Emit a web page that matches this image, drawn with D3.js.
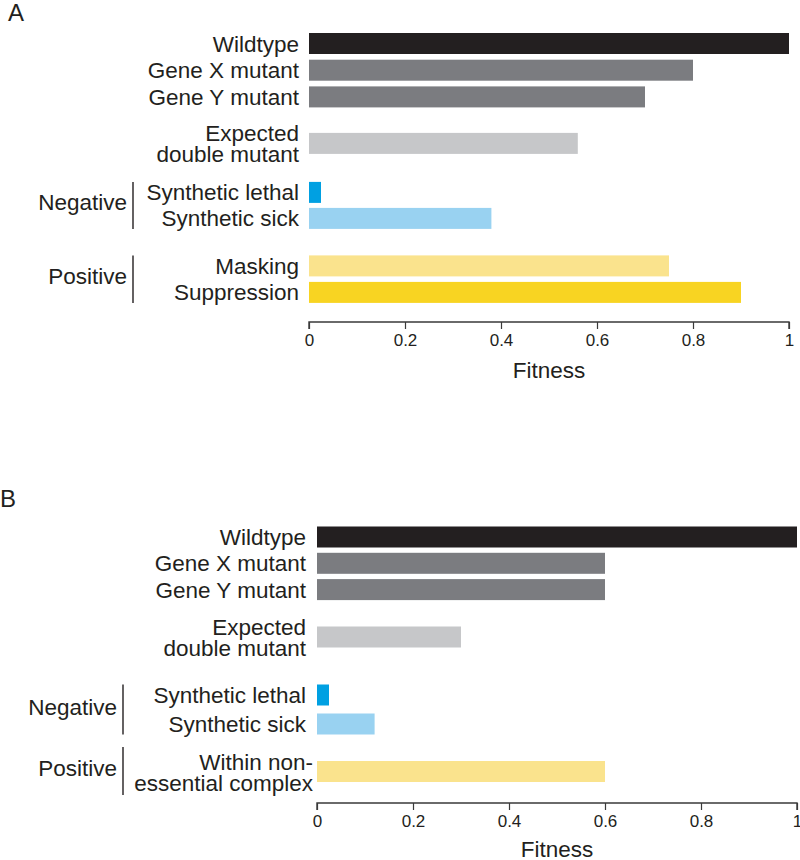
<!DOCTYPE html>
<html>
<head>
<meta charset="utf-8">
<script src="https://cdn.jsdelivr.net/npm/d3@7"></script>
<style>
  html, body { margin: 0; padding: 0; background: #fff; }
  svg { display: block; font-family: "Liberation Sans", Arial, Helvetica, sans-serif; }
</style>
</head>
<body>
<div id="chart"></div>
<script>
/// DATA

// panel A
const categoriesA = ["Wildtype", "Gene X mutant", "Gene Y mutant", "Expected double mutant",
  "Synthetic lethal", "Synthetic sick", "Masking", "Suppression"]
const labelsA = ["Wildtype", "Gene X mutant", "Gene Y mutant", "Expected\ndouble mutant",
  "Synthetic lethal", "Synthetic sick", "Masking", "Suppression"]
const fitnessA = [1, 0.8, 0.7, 0.56, 0.025, 0.38, 0.75, 0.9]
const groupA = [0, 0, 0, 1, 2, 2, 3, 3]
const groupNamesA = ["", "", "Negative", "Positive"]

// panel B
const categoriesB = ["Wildtype", "Gene X mutant", "Gene Y mutant", "Expected double mutant",
  "Synthetic lethal", "Synthetic sick", "Within non-essential complex"]
const labelsB = ["Wildtype", "Gene X mutant", "Gene Y mutant", "Expected\ndouble mutant",
  "Synthetic lethal", "Synthetic sick", "Within non-\nessential complex"]
const fitnessB = [1, 0.6, 0.6, 0.3, 0.025, 0.12, 0.6]
const groupB = [0, 0, 0, 1, 2, 2, 3]
const groupNamesB = ["", "", "Negative", "Positive"]

const tickValues = [0, 0.2, 0.4, 0.6, 0.8, 1]
const axisTitle = "Fitness"

const colorScale = d3
  .scaleOrdinal()
  .domain([
    "Wildtype",
    "Gene X mutant",
    "Gene Y mutant",
    "Expected double mutant",
    "Synthetic lethal",
    "Synthetic sick",
    "Masking",
    "Suppression",
    "Within non-essential complex",
  ])
  .range([
    "#231f20",
    "#7b7c80",
    "#7b7c80",
    "#c6c7c9",
    "#00a0e2",
    "#99d2f1",
    "#fae38d",
    "#f8d422",
    "#fae38d",
  ])

const width = 800
const height = 860
const textColor = "#231f20"

const svg = d3
  .select("#chart")
  .append("svg")
  .attr("width", width)
  .attr("height", height)
  .attr("viewBox", [0, 0, width, height])

/// PANEL

function drawPanel(cfg) {
  const g = svg.append("g")

  // row centres: one pitch inside a group, another across groups
  const centers = []
  cfg.groups.forEach((grp, i) => {
    if (i === 0) centers.push(cfg.top)
    else if (grp === cfg.groups[i - 1]) centers.push(centers[i - 1] + cfg.rowPitch[grp])
    else centers.push(centers[i - 1] + cfg.groupPitch[grp - 1])
  })

  const yScale = d3
    .scaleOrdinal()
    .domain(cfg.categories)
    .range(centers)

  const xScale = d3
    .scaleLinear()
    .domain([0, 1])
    .range([cfg.x0, cfg.x1])

  const rows = cfg.categories.map((c, i) => ({
    key: c,
    label: cfg.labels[i],
    value: cfg.values[i],
    group: cfg.groups[i],
  }))

  // panel letter
  g.append("text")
    .attr("x", cfg.letterX)
    .attr("y", cfg.letterY)
    .attr("font-size", 24)
    .attr("fill", textColor)
    .text(cfg.letter)

  // bars
  g.selectAll("rect.bar")
    .data(rows)
    .join("rect")
    .attr("class", "bar")
    .attr("x", xScale(0))
    .attr("y", (d) => yScale(d.key) - cfg.barH / 2)
    .attr("width", (d) => xScale(d.value) - xScale(0))
    .attr("height", cfg.barH)
    .attr("fill", (d) => colorScale(d.key))

  // row labels
  const labels = g
    .selectAll("text.row-label")
    .data(rows)
    .join("text")
    .attr("class", "row-label")
    .attr("text-anchor", "end")
    .attr("font-size", 22.5)
    .attr("fill", textColor)

  labels.each(function (d) {
    const lines = d.label.split("\n")
    const t = d3.select(this)
    const lx = lines.length > 1 && d.group === 3 ? cfg.labelX2 : cfg.labelX
    if (lines.length === 1) {
      t.append("tspan").attr("x", lx).attr("y", yScale(d.key) + 8).text(lines[0])
    } else {
      lines.forEach((l, k) => {
        t.append("tspan")
          .attr("x", lx)
          .attr("y", yScale(d.key) - 2 + k * 21)
          .text(l)
      })
    }
  })

  // group brackets
  const groupIds = Array.from(new Set(cfg.groups)).filter((k) => cfg.groupNames[k])
  groupIds.forEach((k) => {
    const members = rows.filter((r) => r.group === k)
    let top = yScale(members[0].key) - cfg.barH / 2
    let bottom = yScale(members[members.length - 1].key) + cfg.barH / 2
    if (members.length === 1 && members[0].label.includes("\n")) {
      top = yScale(members[0].key) - 24.5
      bottom = yScale(members[0].key) + 23.5
    }
    g.append("line")
      .attr("x1", cfg.bracketX)
      .attr("x2", cfg.bracketX)
      .attr("y1", top)
      .attr("y2", bottom)
      .attr("stroke", textColor)
      .attr("stroke-width", 1.4)
    g.append("text")
      .attr("x", cfg.bracketX - 6)
      .attr("y", (top + bottom) / 2 + 5)
      .attr("text-anchor", "end")
      .attr("font-size", 22.5)
      .attr("fill", textColor)
      .text(cfg.groupNames[k])
  })

  // axis
  const xAxisGenerator = d3
    .axisBottom()
    .scale(xScale)
    .tickValues(tickValues)
    .tickFormat((d) => String(d))
    .tickSize(7)
    .tickPadding(5)

  const xAxis = g
    .append("g")
    .attr("transform", `translate(0,${cfg.axisY})`)
    .call(xAxisGenerator)
    .style("font-family", "Liberation Sans, Arial, sans-serif")
    .style("font-size", "17px")
    .style("color", "#3a3a3a")

  xAxis.select(".domain").attr("stroke-width", 1.4).attr("d", `M${cfg.x0},7V0H${cfg.x1}V7`)
  xAxis.selectAll(".tick line").attr("stroke-width", 1.2)
  xAxis.selectAll(".tick text").attr("fill", textColor)

  g.append("text")
    .attr("x", (cfg.x0 + cfg.x1) / 2)
    .attr("y", cfg.titleY)
    .attr("text-anchor", "middle")
    .attr("font-size", 22.5)
    .attr("fill", textColor)
    .text(axisTitle)
}

drawPanel({
  letter: "A",
  letterX: 8,
  letterY: 21,
  categories: categoriesA,
  labels: labelsA,
  values: fitnessA,
  groups: groupA,
  groupNames: groupNamesA,
  top: 43.5,
  rowPitch: [26.7, 26.5, 26, 26.5],
  groupPitch: [46.5, 49, 47.5],
  barH: 21,
  x0: 309,
  x1: 789,
  labelX: 299,
  labelX2: 299,
  bracketX: 133,
  axisY: 322,
  titleY: 378,
})

drawPanel({
  letter: "B",
  letterX: 0,
  letterY: 507,
  categories: categoriesB,
  labels: labelsB,
  values: fitnessB,
  groups: groupB,
  groupNames: groupNamesB,
  top: 537,
  rowPitch: [26.3, 26.3, 29, 26.3],
  groupPitch: [47.4, 58, 47.5],
  barH: 21,
  x0: 317,
  x1: 797,
  labelX: 306,
  labelX2: 313,
  bracketX: 123,
  axisY: 803,
  titleY: 857,
})
</script>
</body>
</html>
